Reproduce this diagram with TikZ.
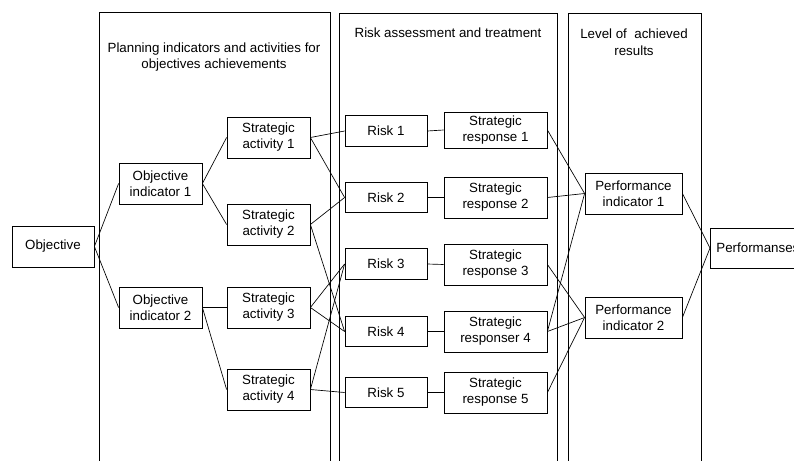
\documentclass[tikz,border=0pt]{standalone}
\usepackage{fontspec}
\setmainfont{Liberation Sans}
\begin{document}
\begin{tikzpicture}[x=0.75pt,y=-0.75pt,
  font=\fontsize{10}{12}\selectfont,
  box/.style={draw, line width=0.6pt, align=center, inner sep=0pt, minimum width=62.25pt, minimum height=30.75pt},
  riskbox/.style={box, minimum width=61.5pt, minimum height=23pt},
  srbox/.style={box, minimum width=77.25pt},
  pibox/.style={box, minimum width=72.75pt},
  col/.style={draw, line width=0.7pt},
  conn/.style={draw, line width=0.5pt},
  head/.style={align=center, inner sep=0pt}]
\useasboundingbox (0,0) rectangle (794,461);
\clip (0,0) rectangle (794,461);
% columns
\draw[col] (99,470) -- (99,12) -- (330,12) -- (330,470);
\draw[col] (339,470) -- (339,13) -- (557,13) -- (557,470);
\draw[col] (568,470) -- (568,13) -- (701,13) -- (701,470);
% headers
\node[head] (h1) at (214,57.5) {Planning indicators and activities for\\objectives achievements};
\node[head] (h2) at (448,33) {Risk assessment and treatment};
\node[head, align=center] (h3) at (634,42) {Level of\ \ achieved\\[1pt]results};
% nodes
\node[box, minimum width=61.5pt] (obj) at (53,246.5) {Objective};
\node[box] (oi1) at (160.5,183.5) {Objective\\indicator 1};
\node[box] (oi2) at (160.5,307.5) {Objective\\indicator 2};
\node[box] (sa1) at (268.5,137.5) {Strategic\\activity 1};
\node[box] (sa2) at (268.5,224.5) {Strategic\\activity 2};
\node[box] (sa3) at (268.5,307.5) {Strategic\\activity 3};
\node[box] (sa4) at (268.5,389.5) {Strategic\\activity 4};
\node[riskbox] (r1) at (386,131) {Risk 1};
\node[riskbox] (r2) at (386,197.5) {Risk 2};
\node[riskbox] (r3) at (386,264) {Risk 3};
\node[riskbox] (r4) at (386,331.5) {Risk 4};
\node[riskbox] (r5) at (386,392.5) {Risk 5};
\node[srbox, minimum height=27pt] (sr1) at (495.5,130) {Strategic\\response 1};
\node[srbox] (sr2) at (495.5,197.5) {Strategic\\response 2};
\node[srbox] (sr3) at (495.5,264.5) {Strategic\\response 3};
\node[srbox] (sr4) at (495.5,331.5) {Strategic\\responser 4};
\node[srbox] (sr5) at (495.5,392.5) {Strategic\\response 5};
\node[pibox] (pi1) at (633.5,193.5) {Performance\\indicator 1};
\node[pibox] (pi2) at (633.5,317.5) {Performance\\indicator 2};
\node[draw, line width=0.6pt, anchor=west, inner xsep=4.5pt, inner ysep=0pt, minimum height=30pt] (perf) at (710,248) {Performanses};
% connectors
\draw[conn] (obj.east) -- (oi1.west);
\draw[conn] (obj.east) -- (oi2.west);
\draw[conn] (oi1.east) -- (sa1.west);
\draw[conn] (oi1.east) -- (sa2.west);
\draw[conn] (oi2.east) -- (sa3.west);
\draw[conn] (oi2.east) -- (sa4.west);
\draw[conn] (sa1.east) -- (r1.west);
\draw[conn] (sa1.east) -- (r2.west);
\draw[conn] (sa2.east) -- (r2.west);
\draw[conn] (sa2.east) -- (r4.west);
\draw[conn] (sa3.east) -- (r3.west);
\draw[conn] (sa3.east) -- (r4.west);
\draw[conn] (sa4.east) -- (r3.west);
\draw[conn] (sa4.east) -- (r5.west);
\draw[conn] (r1.east) -- (sr1.west);
\draw[conn] (r2.east) -- (sr2.west);
\draw[conn] (r3.east) -- (sr3.west);
\draw[conn] (r4.east) -- (sr4.west);
\draw[conn] (r5.east) -- (sr5.west);
\draw[conn] (sr1.east) -- (pi1.west);
\draw[conn] (sr2.east) -- (pi1.west);
\draw[conn] (sr4.east) -- (pi1.west);
\draw[conn] (sr3.east) -- (pi2.west);
\draw[conn] (sr4.east) -- (pi2.west);
\draw[conn] (sr5.east) -- (pi2.west);
\draw[conn] (pi1.east) -- (perf.west);
\draw[conn] (pi2.east) -- (perf.west);
\end{tikzpicture}
\end{document}
